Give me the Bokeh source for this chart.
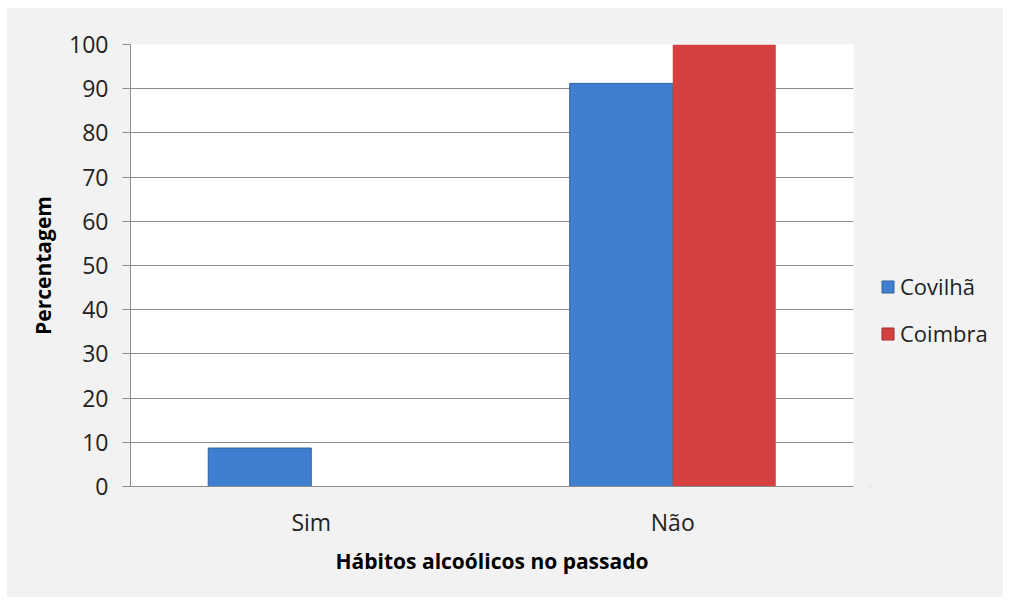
from bokeh.plotting import figure
from bokeh.models import ColumnDataSource, Legend, LegendItem, FactorRange, Range1d, FixedTicker
from bokeh.layouts import row
from bokeh.transform import dodge
from bokeh.embed import file_html
from bokeh.resources import INLINE

categories = ["Sim", "Não"]
covilha = [8.7, 91.2]
coimbra = [0.0, 100.0]
series_names = ["Covilhã", "Coimbra"]
y_ticks = [0, 10, 20, 30, 40, 50, 60, 70, 80, 90, 100]

FONT = "Open Sans"
BLUE = "#3f7fd1"
BLUE_EDGE = "#2f6199"
RED = "#d64040"
RED_EDGE = "#9e2f2f"
BG = "#f2f2f2"

src = ColumnDataSource(dict(cat=categories, covilha=covilha, coimbra=coimbra))

p = figure(x_range=FactorRange(*categories), y_range=Range1d(0, 100),
           width=863, height=589, output_backend="svg", toolbar_location=None,
           min_border_left=123, min_border_right=17, min_border_top=36, min_border_bottom=111)

p.border_fill_color = BG
p.background_fill_color = "white"
p.outline_line_color = None

r1 = p.vbar(x=dodge("cat", -0.1425, range=p.x_range), top="covilha", width=0.285, source=src,
            fill_color=BLUE, line_color=BLUE_EDGE, line_width=1)
r2 = p.vbar(x=dodge("cat", 0.1425, range=p.x_range), top="coimbra", width=0.285, source=src,
            fill_color=RED, line_color=None)

p.xgrid.grid_line_color = None
p.ygrid.grid_line_color = "#8c8c8c"
p.ygrid.grid_line_width = 1
p.yaxis.ticker = FixedTicker(ticks=y_ticks)

for ax in (p.xaxis[0], p.yaxis[0]):
    ax.axis_line_color = "#8c8c8c"
    ax.major_tick_line_color = "#8c8c8c"
    ax.minor_tick_line_color = None
    ax.major_label_text_font = FONT
    ax.major_label_text_font_size = "23px"
    ax.major_label_text_color = "#222222"
    ax.axis_label_text_font = FONT
    ax.axis_label_text_font_style = "bold"
    ax.axis_label_text_font_size = "21px"
    ax.axis_label_text_color = "black"

p.yaxis.major_tick_out = 8
p.yaxis.major_tick_in = 0
p.yaxis.major_label_standoff = 14
p.yaxis.axis_label = "Percentagem"
p.yaxis.axis_label_standoff = 9

p.xaxis.major_tick_out = 0
p.xaxis.major_tick_in = 0
p.xaxis.major_label_standoff = 19
p.xaxis.axis_label = "Hábitos alcoólicos no passado"
p.xaxis.axis_label_standoff = 6

# legend panel (separate narrow figure so the legend can sit outside the main plot area)
lg = figure(width=133, height=589, output_backend="svg", toolbar_location=None,
            min_border_left=0, min_border_right=0, min_border_top=0, min_border_bottom=0,
            x_range=Range1d(0, 1), y_range=Range1d(1, 2))
lg.axis.visible = False
lg.grid.visible = False
lg.outline_line_color = None
lg.background_fill_color = BG
lg.border_fill_color = BG
# off-screen proxies, only used to draw the legend swatches
d1 = lg.vbar(x=[0], top=[0], width=0, fill_color=BLUE, line_color=BLUE_EDGE)
d2 = lg.vbar(x=[0], top=[0], width=0, fill_color=RED, line_color=RED_EDGE)

legend = Legend(items=[LegendItem(label=series_names[0], renderers=[d1]),
                       LegendItem(label=series_names[1], renderers=[d2])],
                location=(10, 138), orientation="vertical")
legend.background_fill_alpha = 0
legend.border_line_alpha = 0
legend.label_text_font = FONT
legend.label_text_font_size = "22px"
legend.label_text_color = "#222222"
legend.glyph_width = 15
legend.glyph_height = 15
legend.label_standoff = 5
legend.spacing = 17
legend.padding = 0
legend.margin = 0
lg.add_layout(legend, "center")

layout = row(p, lg, spacing=0, margin=(8, 0, 0, 7), styles={"background-color": BG})
open("out.html", "w").write(file_html(layout, INLINE))
